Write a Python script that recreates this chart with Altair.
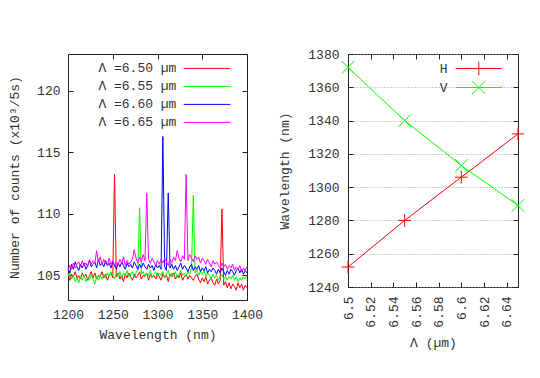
import altair as alt
import pandas as pd

# ---------------- data ----------------
wavelengths = list(range(1200, 1401, 2))

series_names = ["Λ =6.50 µm", "Λ =6.55 µm", "Λ =6.60 µm", "Λ =6.65 µm"]
series_colors = ["#ff0000", "#00ff00", "#0000ff", "#ff00ff"]

counts_650 = [
    105.2, 104.6, 105.1, 104.9, 105.3, 104.8, 105.0, 104.7, 105.2, 104.9,
    105.1, 104.6, 105.0, 105.3, 104.8, 105.2, 104.7, 105.0, 104.9, 105.3,
    104.8, 105.1, 104.6, 105.0, 105.2, 104.8, 113.2, 104.9, 105.2, 104.7,
    105.0, 104.5, 105.1, 104.8, 105.2, 104.9, 104.6, 105.1, 104.8, 105.0,
    105.3, 104.7, 105.0, 104.9, 105.2, 104.6, 105.1, 104.8, 105.0, 104.7,
    105.2, 104.9, 104.6, 105.1, 104.8, 105.0, 104.5, 105.1, 104.9, 105.2,
    104.7, 105.0, 104.8, 105.2, 104.6, 104.9, 105.1, 104.7, 105.0, 104.8,
    104.6, 104.9, 105.1, 104.7, 104.4, 104.8, 104.5, 104.9, 104.3, 104.6,
    104.8, 104.4, 104.2, 104.7, 104.3, 104.6, 110.4, 104.2, 104.5, 104.0,
    104.4, 103.9, 104.3, 104.1, 103.8, 104.4, 104.0, 104.3, 103.8, 104.2, 104.0,
]
counts_655 = [
    104.9, 105.3, 104.7, 105.0, 104.5, 104.8, 104.4, 104.9, 104.6, 105.0,
    104.5, 104.8, 104.6, 105.1, 104.7, 104.3, 104.9, 104.6, 105.0, 104.7,
    105.1, 104.8, 105.2, 104.9, 105.3, 105.0, 104.7, 105.2, 104.9, 105.3,
    104.8, 105.2, 105.0, 105.4, 104.9, 105.1, 105.3, 104.8, 105.2, 105.5,
    110.5, 105.1, 105.3, 104.9, 105.2, 105.0, 105.4, 104.8, 105.1, 105.3,
    104.9, 105.2, 105.0, 105.3, 104.8, 105.1, 105.4, 104.9, 105.2, 105.0,
    105.3, 104.8, 105.1, 105.4, 105.0, 105.2, 104.9, 105.3, 105.1, 105.6,
    111.5, 105.2, 105.5, 105.0, 105.3, 105.1, 105.4, 104.9, 105.2, 105.0,
    104.7, 105.1, 104.8, 105.0, 104.6, 104.9, 105.1, 104.7, 104.9, 104.6,
    104.9, 104.7, 105.0, 104.6, 104.9, 104.5, 104.8, 104.6, 104.9, 104.7, 105.0,
]
counts_660 = [
    105.6, 105.2, 105.9, 105.5, 106.1, 105.7, 105.4, 105.9, 105.6, 106.0,
    105.5, 105.8, 106.2, 105.7, 105.9, 106.1, 105.6, 106.3, 105.8, 106.0,
    105.7, 106.2, 105.8, 106.0, 105.6, 106.1, 105.9, 105.5, 106.0, 105.7,
    106.1, 105.8, 105.5, 106.0, 105.7, 105.9, 105.6, 106.1, 105.8, 105.5,
    105.9, 105.6, 106.0, 105.7, 105.5, 105.9, 105.6, 105.8, 105.4, 105.9,
    105.6, 105.8, 105.5, 116.3, 105.7, 105.4, 111.7, 105.6, 105.9, 105.5,
    105.8, 105.4, 105.7, 106.0, 105.5, 105.8, 105.6, 105.3, 105.7, 105.9,
    105.4, 105.7, 105.5, 105.8, 105.3, 105.6, 105.4, 105.7, 105.2, 105.5,
    105.3, 105.6, 105.4, 105.1, 105.5, 105.2, 105.6, 105.3, 105.0, 105.4,
    105.1, 105.5, 105.3, 105.0, 105.4, 105.6, 105.2, 105.5, 105.1, 105.4, 105.2,
]
counts_665 = [
    105.4, 105.8, 105.5, 106.0, 105.6, 105.9, 106.1, 105.7, 106.2, 105.8,
    106.0, 105.7, 106.3, 105.9, 106.2, 106.0, 107.0, 106.1, 106.5, 105.9,
    106.3, 106.0, 105.8, 106.4, 105.9, 106.2, 105.7, 106.1, 105.9, 106.3,
    106.0, 106.5, 105.8, 106.2, 105.9, 106.1, 106.3, 107.1, 106.4, 106.0,
    106.5, 106.1, 106.7, 106.2, 111.7, 106.3, 106.0, 106.4, 106.1, 105.8,
    106.2, 105.9, 106.3, 106.0, 106.4, 106.1, 105.8, 106.3, 106.0, 106.5,
    106.2, 107.0, 106.4, 106.1, 106.6, 106.3, 113.2, 106.2, 106.7, 106.4,
    106.1, 106.6, 106.3, 106.5, 106.0, 106.4, 106.2, 105.9, 106.3, 106.0,
    105.7, 106.2, 105.9, 106.1, 105.8, 105.6, 106.0, 105.7, 105.9, 105.5,
    105.8, 105.6, 105.9, 105.4, 105.7, 105.5, 105.8, 105.3, 105.6, 105.4, 105.7,
]

period = [6.50, 6.55, 6.60, 6.65]
peak_H = [1252, 1280, 1306, 1332]
peak_V = [1372, 1340, 1313, 1289]
mode_names = ["H", "V"]
mode_colors = ["#ff0000", "#00ff00"]

x1_ticks = [1200, 1250, 1300, 1350, 1400]
y1_ticks = [105, 110, 115, 120]
x2_ticks = [6.50, 6.52, 6.54, 6.56, 6.58, 6.60, 6.62, 6.64]
y2_ticks = [1240, 1260, 1280, 1300, 1320, 1340, 1360, 1380]

# ---------------- styling ----------------
FONT = "Liberation Mono"
TXT = "#333333"
FRAME = "#222222"
W1, H1 = 179, 246
W2, H2 = 170, 233

PLUS = "M-1,0H1M0,-1V1"
CROSS = "M-1,-1L1,1M-1,1L1,-1"
LEG_LINE = "M-3,0H3"
LEG_PLUS = "M-3,0H3M0,-0.9V0.9"
LEG_CROSS = "M-3,0H3M-0.85,-0.85L0.85,0.85M-0.85,0.85L0.85,-0.85"


def main_axis(orient, values, lab_pad, title_pad, **extra):
    opts = dict(orient=orient, values=values, tickSize=0, domain=False, grid=False,
                labelFlush=False, labelPadding=lab_pad, titlePadding=title_pad,
                labelFont=FONT, labelFontSize=13, labelColor=TXT,
                titleFont=FONT, titleFontSize=13, titleFontWeight="normal", titleColor=TXT)
    opts.update(extra)
    return alt.Axis(**opts)


def tick_axis(orient, values, offset):
    return alt.Axis(orient=orient, values=values, offset=offset, labels=False,
                    domain=False, grid=False, tickSize=5, tickColor=FRAME, tickWidth=1)


# ---------------- left panel: spectra ----------------
rows = []
for name, vals in zip(series_names, [counts_650, counts_655, counts_660, counts_665]):
    for w, v in zip(wavelengths, vals):
        rows.append({"wl": w, "counts": v, "series": name})
spec_df = pd.DataFrame(rows)

xs1 = alt.Scale(domain=[1200, 1400], nice=False, zero=False)
ys1 = alt.Scale(domain=[103, 123], nice=False, zero=False)

lines1 = alt.Chart(spec_df).mark_line(strokeWidth=1).encode(
    x=alt.X("wl:Q", scale=xs1, title="Wavelength (nm)",
            axis=main_axis("bottom", x1_ticks, 8, 7, format="d")),
    y=alt.Y("counts:Q", scale=ys1, title="Number of counts (x10³/5s)",
            axis=main_axis("left", y1_ticks, 8, 15, format="d")),
    color=alt.Color("series:N", title=None,
                    scale=alt.Scale(domain=series_names, range=series_colors),
                    legend=alt.Legend(orient="none", legendX=130.5, legendY=5.9,
                                      symbolType=LEG_LINE, symbolSize=242,
                                      symbolStrokeWidth=1, labelAlign="right",
                                      labelOffset={"expr": "-39.1"}, labelFont=FONT,
                                      labelFontSize=13, labelColor=TXT,
                                      rowPadding=2, padding=0)),
)
ticks1a = alt.Chart(spec_df).mark_line(opacity=0).encode(
    x=alt.X("wl:Q", scale=xs1, title=None, axis=tick_axis("top", x1_ticks, -H1)),
    y=alt.Y("counts:Q", scale=ys1, title=None, axis=tick_axis("right", y1_ticks, -W1)),
)
ticks1b = alt.Chart(spec_df).mark_line(opacity=0).encode(
    x=alt.X("wl:Q", scale=xs1, title=None, axis=tick_axis("bottom", x1_ticks, -H1)),
    y=alt.Y("counts:Q", scale=ys1, title=None, axis=tick_axis("left", y1_ticks, -W1)),
)
left = alt.layer(lines1, ticks1a, ticks1b).resolve_axis(
    x="independent", y="independent").properties(width=W1, height=H1)

# ---------------- right panel: peak positions ----------------
df2 = pd.DataFrame({
    "period": period + period,
    "wl": peak_H + peak_V,
    "mode": ["H"] * len(period) + ["V"] * len(period),
})
xs2 = alt.Scale(domain=[6.5, 6.65], nice=False, zero=False)
ys2 = alt.Scale(domain=[1240, 1380], nice=False, zero=False)
cs2 = alt.Scale(domain=mode_names, range=mode_colors)

leg_expr = "datum.value == 'H' ? '" + LEG_PLUS + "' : '" + LEG_CROSS + "'"

lines2 = alt.Chart(df2).mark_line(strokeWidth=1).encode(
    x=alt.X("period:Q", scale=xs2, title="Λ (µm)",
            axis=main_axis("bottom", x2_ticks, 9, 9, labelAngle=270, format=".2~f")),
    y=alt.Y("wl:Q", scale=ys2, title="Wavelength (nm)",
            axis=main_axis("left", y2_ticks, 9, 16, format="d", grid=True,
                           gridColor="#9a9a9a", gridDash=[1, 2], gridWidth=1)),
    color=alt.Color("mode:N", title=None, scale=cs2,
                    legend=alt.Legend(orient="none", legendX=122.3, legendY=6.0,
                                      symbolType={"expr": leg_expr}, symbolSize=237,
                                      symbolStrokeWidth=1, labelAlign="right",
                                      labelOffset={"expr": "-39.8"}, labelFont=FONT,
                                      labelFontSize=13, labelColor=TXT,
                                      rowPadding=0, padding=0)),
)


def marker_layer(mode, shape, colour):
    return alt.Chart(df2).transform_filter(alt.datum.mode == mode).mark_point(
        shape=shape, filled=False, size=160, strokeWidth=1, opacity=1, color=colour
    ).encode(
        x=alt.X("period:Q", scale=xs2, axis=None),
        y=alt.Y("wl:Q", scale=ys2, axis=None),
    )


pts_h = marker_layer(mode_names[0], PLUS, mode_colors[0])
pts_v = marker_layer(mode_names[1], CROSS, mode_colors[1])

ticks2a = alt.Chart(df2).mark_line(opacity=0).encode(
    x=alt.X("period:Q", scale=xs2, title=None, axis=tick_axis("top", x2_ticks, -H2)),
    y=alt.Y("wl:Q", scale=ys2, title=None, axis=tick_axis("right", y2_ticks, -W2)),
)
ticks2b = alt.Chart(df2).mark_line(opacity=0).encode(
    x=alt.X("period:Q", scale=xs2, title=None, axis=tick_axis("bottom", x2_ticks, -H2)),
    y=alt.Y("wl:Q", scale=ys2, title=None, axis=tick_axis("left", y2_ticks, -W2)),
)
right = alt.layer(lines2, pts_h, pts_v, ticks2a, ticks2b).resolve_axis(
    x="independent", y="independent").properties(width=W2, height=H2)

chart = alt.hconcat(left, right, spacing=14).resolve_scale(
    color="independent"
).resolve_legend(color="independent").properties(
    padding={"left": 0, "top": 39, "right": 0, "bottom": 0},
    background="white",
).configure_view(stroke=FRAME, strokeWidth=1)

chart.save("out.html", embed_options={"renderer": "svg", "actions": False})
